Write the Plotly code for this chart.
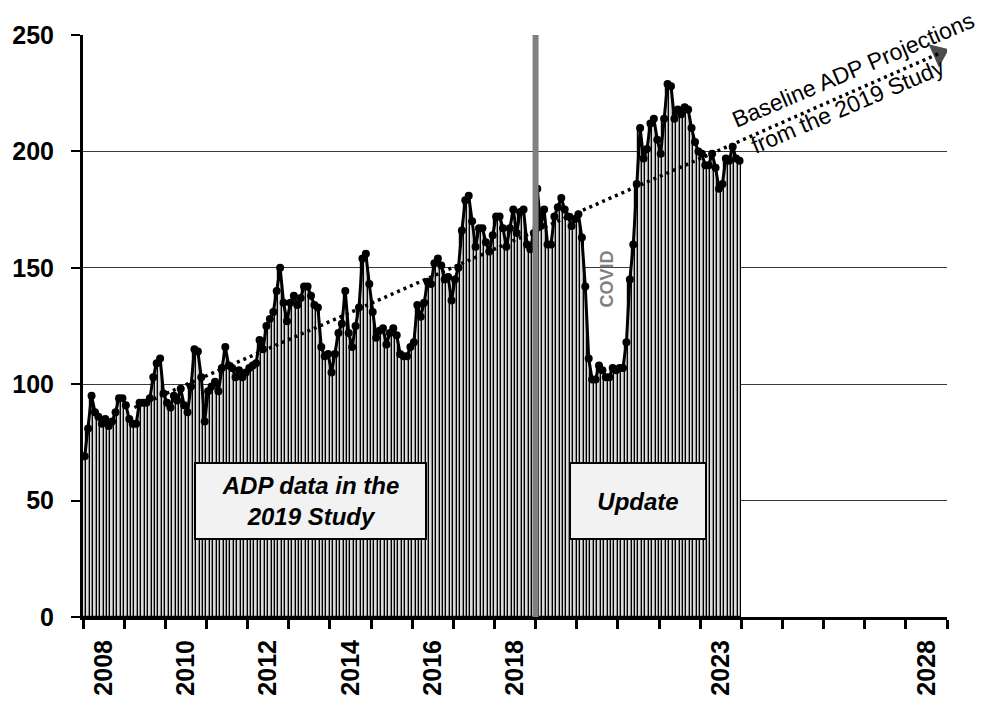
import numpy as np
import plotly.graph_objects as go

# monthly average daily population, Jan 2008 .. Dec 2023
adp_2008_2018 = [
    69, 81, 95, 88, 86, 83, 85, 82, 84, 88, 94, 94,
    91, 85, 83, 83, 92, 92, 92, 94, 103, 109, 111, 96,
    92, 90, 95, 93, 98, 91, 88, 99, 115, 114, 103, 84,
    97, 99, 101, 97, 107, 116, 108, 107, 103, 106, 103, 105,
    107, 108, 109, 119, 115, 125, 128, 131, 140, 150, 135, 127,
    135, 138, 134, 137, 142, 142, 138, 134, 133, 116, 112, 113,
    105, 113, 122, 126, 140, 122, 116, 125, 133, 154, 156, 143,
    131, 120, 123, 124, 117, 122, 124, 121, 113, 112, 112, 116,
    118, 134, 129, 135, 144, 143, 152, 154, 151, 145, 146, 136,
    145, 150, 166, 179, 181, 170, 159, 167, 167, 161, 157, 164,
    172, 172, 167, 159, 167, 175, 165, 174, 175, 160, 158, 165,
]
adp_2019_2023 = [
    184, 168, 175, 160, 160, 172, 176, 180, 175, 172, 168, 171,
    173, 163, 142, 111, 102, 102, 108, 106, 103, 103, 107, 106,
    107, 107, 118, 145, 160, 186, 210, 197, 201, 212, 214, 205,
    199, 214, 229, 228, 214, 218, 216, 219, 218, 210, 204, 200,
    199, 194, 194, 199, 193, 184, 186, 197, 196, 202, 197, 196,
]
first_year = 2008
last_axis_year = 2029

# baseline projection from the 2019 study (start and end of the trend)
proj_years = [2009.25, 2028.8]
proj_adp = [90, 242]

label_years = [2008, 2010, 2012, 2014, 2016, 2018, 2023, 2028]
study_split = 2019

adp = adp_2008_2018 + adp_2019_2023
months = first_year + (np.arange(len(adp)) + 0.5) / 12

FONT = "Liberation Sans, Arial, sans-serif"

fig = go.Figure()
fig.add_trace(go.Bar(
    x=months, y=adp, width=1 / 12,
    marker=dict(color="#dcdcdc", line=dict(color="black", width=1.2)),
    hoverinfo="skip",
))
fig.add_trace(go.Scatter(
    x=proj_years, y=proj_adp, mode="lines+markers",
    line=dict(color="black", width=3.5, dash="3px,4px"),
    marker=dict(symbol="triangle-up", size=[0, 22], color="black",
                angleref="previous", line=dict(width=0)),
))
fig.add_trace(go.Scatter(
    x=months, y=adp, mode="lines+markers",
    line=dict(color="black", width=3),
    marker=dict(color="black", size=8),
))

fig.add_shape(type="line", x0=study_split, x1=study_split, y0=0, y1=250,
              xref="x", yref="y", layer="above",
              line=dict(color="#808080", width=6))

box = dict(showarrow=False, bgcolor="#f2f2f2", bordercolor="black", borderwidth=2,
           borderpad=0, font=dict(family=FONT, size=24, color="black"), height=74)
fig.add_annotation(x=2013.54, y=50, text="<b><i>ADP data in the<br>2019 Study</i></b>",
                   width=229, **box)
fig.add_annotation(x=2021.48, y=50, text="<b><i>Update</i></b>", width=134, **box)
fig.add_annotation(x=2020.74, y=145, text="<b>COVID</b>", textangle=-90, showarrow=False,
                   font=dict(family=FONT, size=18, color="#808080"))

proj_font = dict(family=FONT, size=23, color="black")
fig.add_annotation(x=2026.71, y=235, text="Baseline ADP Projections",
                   textangle=-23, showarrow=False, font=proj_font)
fig.add_annotation(x=2026.59, y=219.5, text="from the 2019 Study",
                   textangle=-23, showarrow=False, font=proj_font)

fig.update_layout(
    width=991, height=702,
    margin=dict(l=75, r=52, t=27, b=93),
    paper_bgcolor="white", plot_bgcolor="white",
    showlegend=False, bargap=0,
    font=dict(family=FONT, color="black"),
)
fig.update_xaxes(
    range=[first_year, last_axis_year],
    tickmode="array",
    tickvals=[y + 0.5 for y in label_years],
    ticktext=["<b>%d</b>" % y for y in label_years],
    tickangle=-90, ticks="", ticklabelstandoff=10,
    tickfont=dict(family=FONT, size=25, color="black"),
    minor=dict(tickmode="array", tickvals=list(range(first_year, last_axis_year + 1)),
               ticks="outside", ticklen=9, tickwidth=3, tickcolor="black"),
    showline=True, linecolor="black", linewidth=3,
    showgrid=False, zeroline=False, automargin=False,
)
fig.update_yaxes(
    range=[0, 250], tickmode="array",
    tickvals=list(range(0, 251, 50)),
    ticktext=["<b>%d</b>" % v for v in range(0, 251, 50)],
    ticks="outside", ticklen=9, tickwidth=2, tickcolor="black",
    ticklabelstandoff=12,
    tickfont=dict(family=FONT, size=25, color="black"),
    showline=True, linecolor="black", linewidth=3,
    showgrid=True, gridcolor="#3a3a3a", gridwidth=1,
    zeroline=False, automargin=False,
)

fig.write_html("out.html")
